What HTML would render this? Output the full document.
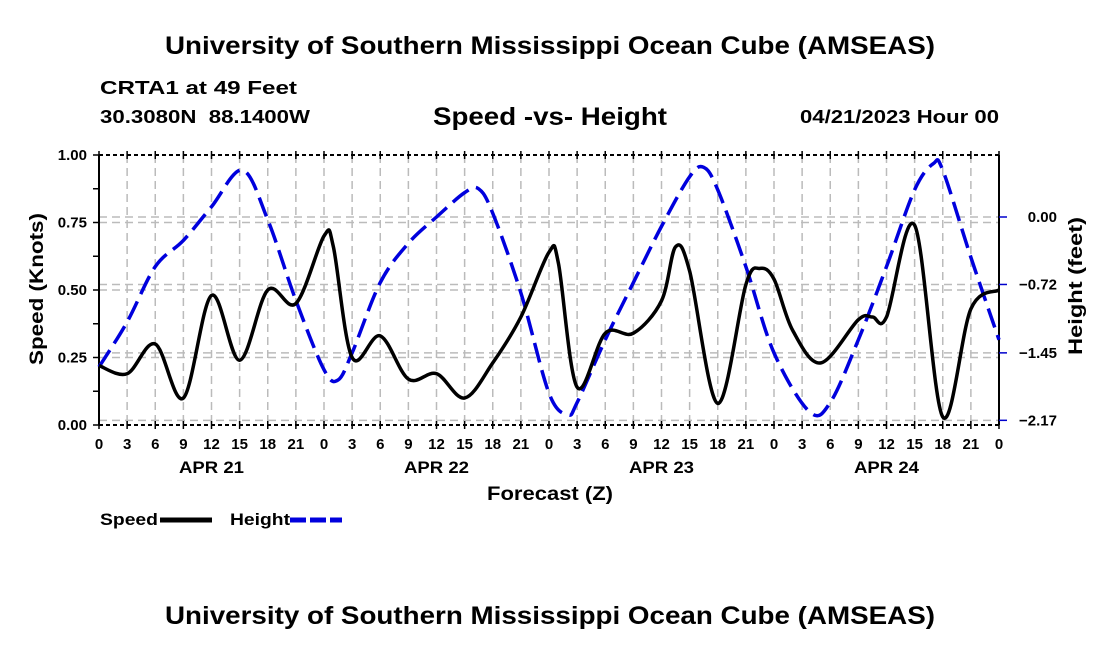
<!DOCTYPE html>
<html><head><meta charset="utf-8"><style>
body{margin:0;background:#fff;width:1100px;height:650px;overflow:hidden}
svg{display:block;font-family:"Liberation Sans",sans-serif;font-weight:bold}
</style></head><body>
<svg id="chart" width="1100" height="650" viewBox="0 0 1100 650">
<text x="165" y="54" font-size="25" textLength="770" lengthAdjust="spacingAndGlyphs">University of Southern Mississippi Ocean Cube (AMSEAS)</text>
<text x="100" y="94" font-size="18" textLength="197" lengthAdjust="spacingAndGlyphs">CRTA1 at 49 Feet</text>
<text x="100" y="123" font-size="18" textLength="210" lengthAdjust="spacingAndGlyphs" xml:space="preserve">30.3080N  88.1400W</text>
<text x="433" y="125" font-size="25" textLength="234" lengthAdjust="spacingAndGlyphs">Speed -vs- Height</text>
<text x="800" y="123" font-size="18" textLength="199" lengthAdjust="spacingAndGlyphs">04/21/2023 Hour 00</text>
<g id="grid"></g>
<g id="axes"></g>
<g id="series"></g>
<text transform="translate(43,365) rotate(-90)" font-size="19" textLength="152" lengthAdjust="spacingAndGlyphs">Speed (Knots)</text>
<text transform="translate(1082,355) rotate(-90)" font-size="19" textLength="138" lengthAdjust="spacingAndGlyphs">Height (feet)</text>
<text x="487" y="500" font-size="19" textLength="126" lengthAdjust="spacingAndGlyphs">Forecast (Z)</text>
<g>
<text x="100" y="525" font-size="17" textLength="58" lengthAdjust="spacingAndGlyphs">Speed</text>
<line x1="160" y1="520" x2="212" y2="520" stroke="#000" stroke-width="5"/>
<text x="230" y="525" font-size="17" textLength="60" lengthAdjust="spacingAndGlyphs">Height</text>
<line x1="290" y1="520" x2="342" y2="520" stroke="#0000dd" stroke-width="5" stroke-dasharray="16,4"/>
</g>
<text x="165" y="624" font-size="25" textLength="770" lengthAdjust="spacingAndGlyphs">University of Southern Mississippi Ocean Cube (AMSEAS)</text>
</svg>
<script>
const speedHours=[0,3,6,9,12,15,18,21,24,25,27,30,33,36,39,42,45,48,49,51,54,57,60,61.5,63,66,69,70.5,72,74,77,81,82.5,84,87,90,93,96];
const speedValues=[0.22,0.19,0.30,0.10,0.48,0.24,0.50,0.45,0.70,0.66,0.25,0.33,0.17,0.19,0.10,0.23,0.40,0.64,0.60,0.14,0.34,0.34,0.46,0.66,0.57,0.08,0.52,0.58,0.54,0.35,0.23,0.39,0.40,0.40,0.74,0.03,0.43,0.50];
const heightHours=[0,3,6,9,12,15.3,18,21,24,25.5,27,30,33,36,39,40.5,42,45,48,50,51,54,57,60,63,64.5,66,69,72,75.8,78,81,84,87,89,90,93,96];
const heightValues=[-1.60,-1.12,-0.53,-0.25,0.11,0.50,-0.03,-0.89,-1.63,-1.74,-1.45,-0.70,-0.28,0.0,0.26,0.30,0.04,-0.81,-1.88,-2.11,-1.98,-1.31,-0.70,-0.10,0.43,0.53,0.29,-0.53,-1.45,-2.08,-1.98,-1.31,-0.53,0.29,0.57,0.50,-0.43,-1.31];
const speedTicks=[0,0.25,0.5,0.75,1.0];
const heightTicks=[0.00,-0.72,-1.45,-2.17];
const heightTickLabels=["0.00","\u22120.72","\u22121.45","\u22122.17"];
const hourLabels=["0","3","6","9","12","15","18","21"];
const dayLabels=["APR 21","APR 22","APR 23","APR 24"];

const X0=99,X1=999,Y0=425,Y1=155;
const xs=h=>X0+h*(X1-X0)/96;
const ys=v=>Y0-v*(Y0-Y1);
const yh=f=>217-f*93.7;
const NS="http://www.w3.org/2000/svg";
function mk(tag,attrs,parent){const e=document.createElementNS(NS,tag);for(const k in attrs)e.setAttribute(k,attrs[k]);parent.appendChild(e);return e;}
const grid=document.getElementById('grid'),axes=document.getElementById('axes'),ser=document.getElementById('series');

for(let h=3;h<96;h+=3){
  const l=mk('line',{x1:xs(h),x2:xs(h),y1:Y1,y2:Y0,stroke:'#bbb','stroke-width':1.5,'stroke-dasharray':'8,5'},grid);
  
  
}
speedTicks.slice(1,4).forEach(v=>{
  const l=mk('line',{x1:X0,x2:X1,y1:ys(v),y2:ys(v),stroke:'#bbb','stroke-width':1.5,'stroke-dasharray':'8,5'},grid);
  
  
});
heightTicks.forEach(v=>{
  const l=mk('line',{x1:X0,x2:X1,y1:yh(v),y2:yh(v),stroke:'#bbb','stroke-width':1.5,'stroke-dasharray':'8,5'},grid);
  
  
});
[[X0,Y1,X0,Y0,'left-axis'],[X1,Y1,X1,Y0,'right-axis']].forEach(a=>{
  const l=mk('line',{x1:a[0],y1:a[1],x2:a[2],y2:a[3],stroke:'#000','stroke-width':2},axes);
  
  
});
[Y1,Y0].forEach(y=>{
  const l=mk('line',{x1:X0,x2:X1,y1:y,y2:y,stroke:'#000','stroke-width':2,'stroke-dasharray':'4,3'},axes);
  
  
});
for(let h=0;h<=96;h+=3){
  const t=mk('line',{x1:xs(h),x2:xs(h),y1:Y1-4,y2:Y1+4,stroke:'#000','stroke-width':1.5},axes);
  
  
  const b=mk('line',{x1:xs(h),x2:xs(h),y1:Y0-4,y2:Y0+4,stroke:'#000','stroke-width':1.5},axes);
  
  
  const lab=h%24===0?"0":hourLabels[(h%24)/3];
  const tx=mk('text',{x:xs(h),y:449,'text-anchor':'middle','font-size':15},axes);
  tx.textContent=lab;
  
  
}
dayLabels.forEach((d,i)=>{
  const t=mk('text',{x:xs(i*24+12),y:473,'text-anchor':'middle','font-size':17,textLength:65,lengthAdjust:'spacingAndGlyphs'},axes);
  t.textContent=d;
  
  
});
for(let v=0;v<=1.0001;v+=0.125){
  const t=mk('line',{x1:X0-6,x2:X0,y1:ys(v),y2:ys(v),stroke:'#000','stroke-width':1.5},axes);
  
  
}
speedTicks.forEach(v=>{
  const t=mk('text',{x:87,y:ys(v)+5,'text-anchor':'end','font-size':15},axes);
  t.textContent=v.toFixed(2);
  
  
});
heightTicks.forEach((v,i)=>{
  const t=mk('line',{x1:X1,x2:X1+8,y1:yh(v),y2:yh(v),stroke:'#0000cc','stroke-width':1.5},axes);
  
  
  const tx=mk('text',{x:1057,y:yh(v)+5,'text-anchor':'end','font-size':15},axes);
  tx.textContent=heightTickLabels[i];
  
  
});
function smooth(pts){
  let d=`M${pts[0][0]},${pts[0][1]}`;
  for(let i=0;i<pts.length-1;i++){
    const p0=pts[Math.max(0,i-1)],p1=pts[i],p2=pts[i+1],p3=pts[Math.min(pts.length-1,i+2)];
    const c1=[p1[0]+(p2[0]-p0[0])/6,p1[1]+(p2[1]-p0[1])/6];
    const c2=[p2[0]-(p3[0]-p1[0])/6,p2[1]-(p3[1]-p1[1])/6];
    d+=` C${c1[0]},${c1[1]} ${c2[0]},${c2[1]} ${p2[0]},${p2[1]}`;
  }
  return d;
}
const hp=mk('path',{d:smooth(heightHours.map((h,i)=>[xs(h),yh(heightValues[i])])),fill:'none',stroke:'#0000dd','stroke-width':3.5,'stroke-dasharray':'20,8'},ser);


const sp=mk('path',{d:smooth(speedHours.map((h,i)=>[xs(h),ys(speedValues[i])])),fill:'none',stroke:'#000','stroke-width':3.5},ser);


</script>
</body></html>
